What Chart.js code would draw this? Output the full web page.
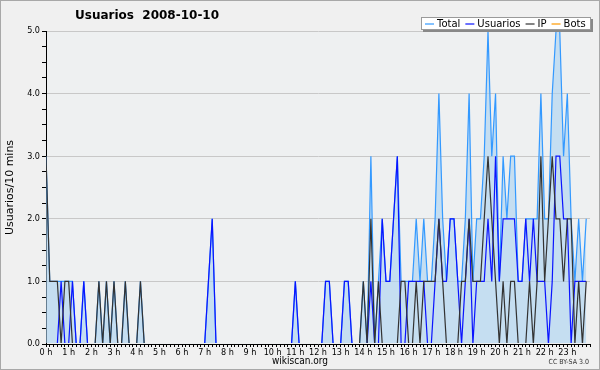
<!doctype html>
<html lang="es">
<head>
<meta charset="utf-8">
<style>
  html, body { margin: 0; padding: 0; background: #f0f0f0; }
  canvas { display: block; }
</style>
</head>
<body>
<canvas id="chart" width="600" height="370"></canvas>

<script src="https://cdn.jsdelivr.net/npm/chart.js"></script>
<script>
// one value every 10 minutes, 6 per hour (each row = one hour)
const total = [
    3, 1, 1, 1, 1, 1,   1, 1, 0, 0, 1, 0,   0, 0, 1, 0, 1, 0,   1, 0, 0, 1, 0, 0,
    0, 1, 0, 0, 0, 0,   0, 0, 0, 0, 0, 0,   0, 0, 0, 0, 0, 0,   0, 1, 2, 0, 0, 0,
    0, 0, 0, 0, 0, 0,   0, 0, 0, 0, 0, 0,   0, 0, 0, 0, 0, 0,   1, 0, 0, 0, 0, 0,
    0, 0, 1, 1, 0, 0,   0, 1, 1, 0, 0, 0,   1, 0, 3, 0, 1, 2,   1, 1, 2, 3, 1, 1,
    1, 1, 2, 1, 2, 1,   1, 2, 4, 2, 1, 2,   2, 1, 1, 2, 4, 1,   2, 2, 3, 5, 3, 4,
    1, 3, 2, 3, 3, 1,   1, 2, 2, 2, 2, 4,   2, 2, 4, 5, 5, 3,   4, 2, 1, 2, 1, 2
];
const usuarios = [
    0, 0, 0, 0, 1, 0,   0, 1, 0, 0, 1, 0,   0, 0, 0, 0, 0, 0,   0, 0, 0, 0, 0, 0,
    0, 0, 0, 0, 0, 0,   0, 0, 0, 0, 0, 0,   0, 0, 0, 0, 0, 0,   0, 1, 2, 0, 0, 0,
    0, 0, 0, 0, 0, 0,   0, 0, 0, 0, 0, 0,   0, 0, 0, 0, 0, 0,   1, 0, 0, 0, 0, 0,
    0, 0, 1, 1, 0, 0,   0, 1, 1, 0, 0, 0,   0, 0, 1, 0, 0, 2,   1, 1, 2, 3, 0, 0,
    1, 1, 1, 1, 1, 0,   0, 1, 2, 1, 1, 2,   2, 1, 0, 1, 2, 0,   1, 1, 1, 2, 1, 3,
    1, 2, 2, 2, 2, 1,   1, 2, 1, 2, 1, 1,   1, 0, 1, 3, 3, 2,   2, 0, 1, 1, 1, 1
];
const ip = [
    3, 1, 1, 1, 0, 1,   1, 0, 0, 0, 0, 0,   0, 0, 1, 0, 1, 0,   1, 0, 0, 1, 0, 0,
    0, 1, 0, 0, 0, 0,   0, 0, 0, 0, 0, 0,   0, 0, 0, 0, 0, 0,   0, 0, 0, 0, 0, 0,
    0, 0, 0, 0, 0, 0,   0, 0, 0, 0, 0, 0,   0, 0, 0, 0, 0, 0,   0, 0, 0, 0, 0, 0,
    0, 0, 0, 0, 0, 0,   0, 0, 0, 0, 0, 0,   1, 0, 2, 0, 1, 0,   0, 0, 0, 0, 1, 1,
    0, 0, 1, 0, 1, 1,   1, 1, 2, 1, 0, 0,   0, 0, 1, 1, 2, 1,   1, 1, 2, 3, 2, 1,
    0, 1, 0, 1, 1, 0,   0, 0, 1, 0, 1, 3,   1, 2, 3, 2, 2, 1,   2, 2, 0, 1, 0, 1
];
const bots = [
    0, 0, 0, 0, 0, 0,   0, 0, 0, 0, 0, 0,   0, 0, 0, 0, 0, 0,   0, 0, 0, 0, 0, 0,
    0, 0, 0, 0, 0, 0,   0, 0, 0, 0, 0, 0,   0, 0, 0, 0, 0, 0,   0, 0, 0, 0, 0, 0,
    0, 0, 0, 0, 0, 0,   0, 0, 0, 0, 0, 0,   0, 0, 0, 0, 0, 0,   0, 0, 0, 0, 0, 0,
    0, 0, 0, 0, 0, 0,   0, 0, 0, 0, 0, 0,   0, 0, 0, 0, 0, 0,   0, 0, 0, 0, 0, 0,
    0, 0, 0, 0, 0, 0,   0, 0, 0, 0, 0, 0,   0, 0, 0, 0, 0, 0,   0, 0, 0, 0, 0, 0,
    0, 0, 0, 0, 0, 0,   0, 0, 0, 0, 0, 0,   0, 0, 0, 0, 0, 0,   0, 0, 0, 0, 0, 0
];

const hourLabels = ['0 h', '1 h', '2 h', '3 h', '4 h', '5 h', '6 h', '7 h', '8 h', '9 h', '10 h', '11 h',
                    '12 h', '13 h', '14 h', '15 h', '16 h', '17 h', '18 h', '19 h', '20 h', '21 h', '22 h', '23 h'];
const yTickLabels = ['0.0', '1.0', '2.0', '3.0', '4.0', '5.0'];
const seriesNames = ['Total', 'Usuarios', 'IP', 'Bots'];
const seriesColors = ['#3399ff', '#0a14ff', '#333333', '#ff9900'];

const titleText = 'Usuarios  2008-10-10';
const yTitle = 'Usuarios/10 mins';
const footerText = 'wikiscan.org';
const licenseText = 'CC BY-SA 3.0';

const FONT = '"DejaVu Sans Condensed", "DejaVu Sans", sans-serif';
const FONT_W = '"DejaVu Sans", sans-serif';

function points(values) {
    return values.map((v, i) => ({ x: i, y: v }));
}

// background, frame, title, legend box and footer
const decor = {
    id: 'decor',
    beforeDraw(chart) {
        const c = chart.ctx;
        const a = chart.chartArea;
        c.save();
        c.fillStyle = '#f0f0f0';
        c.fillRect(0, 0, chart.width, chart.height);
        c.fillStyle = '#eef0f1';
        c.fillRect(a.left, a.top, a.right - a.left, a.bottom - a.top);
        c.strokeStyle = '#a8a8a8';
        c.lineWidth = 1;
        c.strokeRect(0.5, 0.5, chart.width - 1, chart.height - 1);
        c.restore();
    },
    afterDraw(chart) {
        const c = chart.ctx;
        const a = chart.chartArea;
        c.save();

        // title
        c.fillStyle = '#000';
        c.font = 'bold 12px ' + FONT_W;
        c.textBaseline = 'middle';
        c.textAlign = 'left';
        c.fillText(titleText, 75, 16);

        // y title
        c.save();
        c.translate(10, (a.top + a.bottom) / 2);
        c.rotate(-Math.PI / 2);
        c.textAlign = 'center';
        c.font = '11px ' + FONT_W;
        c.fillText(yTitle, 0, 0);
        c.restore();

        // footer
        c.textAlign = 'center';
        c.font = '10px ' + FONT;
        c.fillText(footerText, 300, 361);
        c.textAlign = 'right';
        c.font = '7px ' + FONT;
        c.fillStyle = '#333';
        c.fillText(licenseText, 589, 362);

        // legend box
        const bx = 421, by = 17, bw = 170, bh = 13;
        c.fillStyle = '#888';
        c.fillRect(bx + 2, by + 2, bw, bh);
        c.fillStyle = '#fff';
        c.fillRect(bx, by, bw, bh);
        c.strokeStyle = '#9a9a9a';
        c.lineWidth = 1;
        c.strokeRect(bx + 0.5, by + 0.5, bw - 1, bh - 1);

        c.font = '10px ' + FONT_W;
        c.textAlign = 'left';
        c.textBaseline = 'middle';
        let x = bx + 4;
        const ly = by + bh / 2 + 0.5;
        seriesNames.forEach((name, k) => {
            c.strokeStyle = seriesColors[k];
            c.lineWidth = 1.2;
            c.beginPath();
            c.moveTo(x, ly);
            c.lineTo(x + 9, ly);
            c.stroke();
            c.fillStyle = '#000';
            c.fillText(name, x + 12, ly);
            x += 12 + c.measureText(name).width + 5;
        });
        c.restore();
    }
};

const ctx = document.getElementById('chart');

new Chart(ctx, {
    type: 'line',
    data: {
        datasets: [
            {
                label: seriesNames[0],
                data: points(total),
                borderColor: seriesColors[0],
                backgroundColor: 'rgba(170, 210, 242, 0.6)',
                borderWidth: 1.2,
                fill: 'origin',
                order: 4
            },
            {
                label: seriesNames[1],
                data: points(usuarios),
                borderColor: seriesColors[1],
                borderWidth: 1.2,
                fill: false,
                order: 3
            },
            {
                label: seriesNames[2],
                data: points(ip),
                borderColor: seriesColors[2],
                borderWidth: 1.2,
                fill: false,
                order: 2
            },
            {
                label: seriesNames[3],
                data: points(bots),
                borderColor: seriesColors[3],
                borderWidth: 1.2,
                fill: false,
                order: 5
            }
        ]
    },
    options: {
        responsive: false,
        animation: false,
        devicePixelRatio: 1,
        layout: { padding: { left: 0, right: 10, top: 31, bottom: 0 } },
        elements: {
            point: { radius: 0 },
            line: { tension: 0 }
        },
        datasets: {
            line: { clip: { left: 0, top: 1, right: 0, bottom: -1 } }
        },
        plugins: {
            legend: { display: false },
            tooltip: { enabled: false },
            title: { display: false }
        },
        scales: {
            x: {
                type: 'linear',
                min: 0,
                max: 144,
                z: 1,
                afterBuildTicks: (s) => {
                    s.ticks = [];
                    for (let k = 0; k <= 144; k++) s.ticks.push({ value: k });
                },
                afterFit: (s) => { s.height = 26; },
                ticks: {
                    autoSkip: false,
                    maxRotation: 0,
                    minRotation: 0,
                    padding: 0,
                    color: '#000',
                    font: { family: FONT, size: 9 },
                    callback: (v) => (v % 6 === 0 && hourLabels[v / 6]) ? hourLabels[v / 6] : ''
                },
                grid: { drawOnChartArea: false, tickLength: 3, tickColor: '#000' },
                border: { color: '#000', width: 1 }
            },
            y: {
                min: 0,
                max: 5,
                afterBuildTicks: (s) => {
                    s.ticks = [];
                    for (let k = 0; k <= 20; k++) s.ticks.push({ value: k / 4 });
                },
                afterFit: (s) => { s.width = 46; },
                ticks: {
                    autoSkip: false,
                    padding: 2,
                    color: '#000',
                    font: { family: FONT, size: 9 },
                    callback: (v) => Number.isInteger(v) ? yTickLabels[v] : ''
                },
                grid: {
                    color: (c) => Number.isInteger(c.tick.value) ? '#c8c8c8' : 'rgba(0,0,0,0)',
                    tickColor: '#000',
                    tickLength: 4,
                    lineWidth: 1
                },
                border: { color: '#000', width: 1 }
            }
        }
    },
    plugins: [decor]
});
</script>
</body>
</html>
